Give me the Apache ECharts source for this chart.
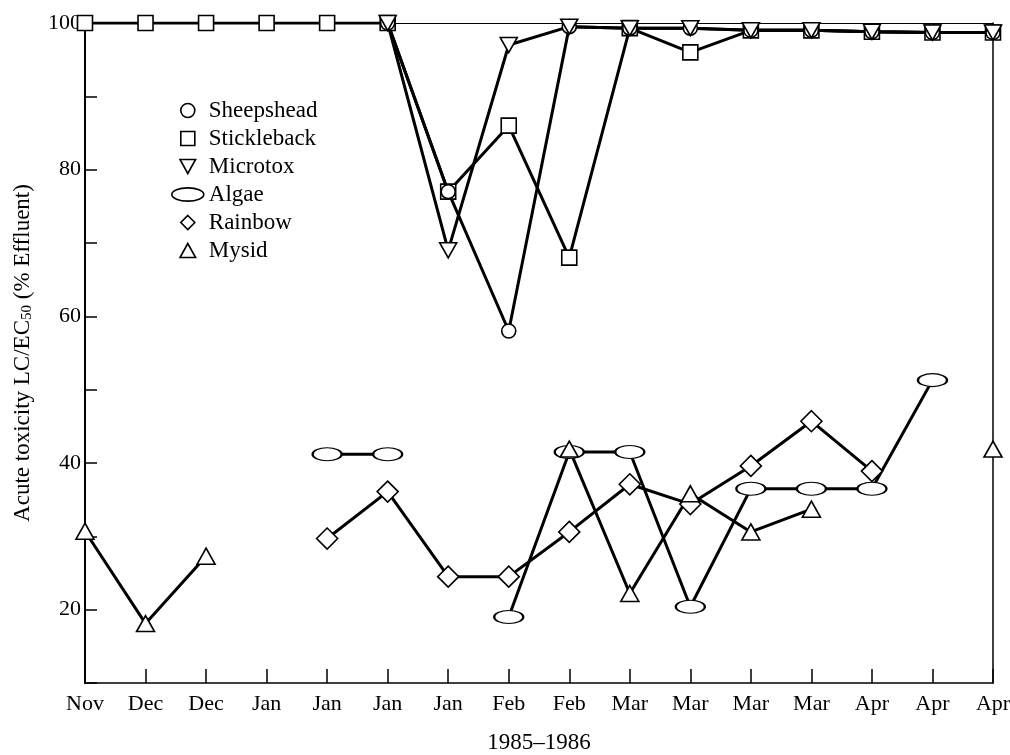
<!DOCTYPE html>
<html>
<head>
<meta charset="utf-8">
<script src="https://cdn.jsdelivr.net/npm/echarts@6/dist/echarts.min.js"></script>
<style>
html,body{margin:0;padding:0;background:#fff;}
#chart{width:1010px;height:755px;}
</style>
</head>
<body>
<div id="chart"></div>
<script>
// ---- data ----
const categories = ['Nov','Dec','Dec','Jan','Jan','Jan','Jan','Feb','Feb','Mar','Mar','Mar','Mar','Apr','Apr','Apr'];
const yTicks = [20, 40, 60, 80, 100];
const sheepshead  = [null,null,null,null,null,100,77,58,99.5,99.3,99.3,99,99,98.8,98.7,98.7];
const stickleback = [100,100,100,100,100,100,77,86,68,99.3,96,99,99,98.8,98.7,98.7];
const microtox    = [null,null,null,null,null,100,69,97,99.5,99.3,99.3,99,99,98.8,98.7,98.7];
const algae       = [null,null,null,null,41.2,41.2,null,19,41.5,41.5,20.4,36.5,36.5,36.5,51.3,null];
const rainbow     = [null,null,null,null,29.7,36.1,24.5,24.5,30.6,37.1,34.4,39.6,45.7,38.9,null,null];
const mysid       = [30.7,18.1,27.3,null,null,null,null,null,41.9,22.2,35.8,30.6,33.7,null,null,41.9];

const FONT = '"Liberation Serif","Times New Roman",serif';
const SYM = {
  circle: 'path://M10,0A10,10,0,1,1,10,20A10,10,0,1,1,10,0Z',
  square: 'path://M0,0H10V10H0Z',
  down: 'path://M0,0H10L5,9Z',
  ellipse: 'path://M0,5A12,5,0,1,1,24,5A12,5,0,1,1,0,5Z',
  diamond: 'path://M5,0L10,5L5,10L0,5Z',
  up: 'path://M5,0L10,9H0Z'
};

function mk(name, data, symbol, size) {
  return {
    name: name, type: 'line', data: data,
    symbol: symbol, symbolSize: size, showAllSymbol: true,
    connectNulls: false,
    lineStyle: {color: '#000', width: 3},
    itemStyle: {color: '#fff', borderColor: '#000', borderWidth: 1.6},
    emphasis: {disabled: true},
    xAxisIndex: 0, yAxisIndex: 0
  };
}

const chart = echarts.init(document.getElementById('chart'), null, {renderer: 'canvas'});
chart.setOption({
  animation: false,
  backgroundColor: '#fff',
  grid: {left: 85, right: 17, top: 23, bottom: 72, containLabel: false, outerBoundsMode: 'none'},
  legend: {
    orient: 'vertical', left: 166, top: 94, itemWidth: 32, itemHeight: 14, itemGap: 5,
    textStyle: {fontFamily: FONT, fontSize: 23, color: '#000', lineHeight: 23},
    itemStyle: {color: '#fff', borderColor: '#000', borderWidth: 1.6},
    symbolKeepAspect: true,
    selectedMode: false,
    data: [
      {name: 'Sheepshead', icon: SYM.circle},
      {name: 'Stickleback', icon: SYM.square},
      {name: 'Microtox', icon: SYM.down},
      {name: 'Algae', icon: SYM.ellipse},
      {name: 'Rainbow', icon: SYM.diamond},
      {name: 'Mysid', icon: SYM.up}
    ]
  },
  xAxis: [{
    type: 'category', data: categories, boundaryGap: false,
    name: '1985\u20131986', nameLocation: 'middle', nameGap: 48,
    nameTextStyle: {fontFamily: FONT, fontSize: 23, color: '#000'},
    axisLine: {show: true, lineStyle: {color: '#000', width: 1.5}},
    axisTick: {show: true, inside: true, length: 14, lineStyle: {color: '#000', width: 1.5}},
    axisLabel: {fontFamily: FONT, fontSize: 22, color: '#000', margin: 10, interval: 0},
    splitLine: {show: false}
  }, {
    type: 'category', data: categories, boundaryGap: false, position: 'top',
    axisLine: {show: true, lineStyle: {color: '#000', width: 1}},
    axisTick: {show: false}, axisLabel: {show: false}, splitLine: {show: false}
  }],
  yAxis: [{
    type: 'value', min: 10, max: 100, interval: 10,
    name: 'Acute toxicity LC/EC{sub|50} (% Effluent)',
    nameLocation: 'middle', nameGap: 50, nameRotate: 90,
    nameTextStyle: {fontFamily: FONT, fontSize: 23, color: '#000',
      rich: {sub: {fontFamily: FONT, fontSize: 15, color: '#000', verticalAlign: 'bottom', padding: [9, 0, 0, 0]}}},
    axisLine: {show: true, lineStyle: {color: '#000', width: 2}},
    axisTick: {show: true, inside: true, length: 12, lineStyle: {color: '#000', width: 1.5}},
    axisLabel: {fontFamily: FONT, fontSize: 22, color: '#000', margin: 4,
      formatter: function (v) { return yTicks.indexOf(v) >= 0 ? String(v) : ''; }},
    splitLine: {show: false}
  }, {
    type: 'value', min: 10, max: 100, interval: 10, position: 'right',
    axisLine: {show: true, lineStyle: {color: '#000', width: 1.5}},
    axisTick: {show: false}, axisLabel: {show: false}, splitLine: {show: false}
  }],
  series: [
    mk('Stickleback', stickleback, SYM.square, 15),
    mk('Sheepshead', sheepshead, SYM.circle, 14),
    mk('Microtox', microtox, SYM.down, [17, 15]),
    mk('Algae', algae, SYM.ellipse, [29, 13]),
    mk('Rainbow', rainbow, SYM.diamond, 21),
    mk('Mysid', mysid, SYM.up, [18, 16])
  ]
});
</script>
</body>
</html>
